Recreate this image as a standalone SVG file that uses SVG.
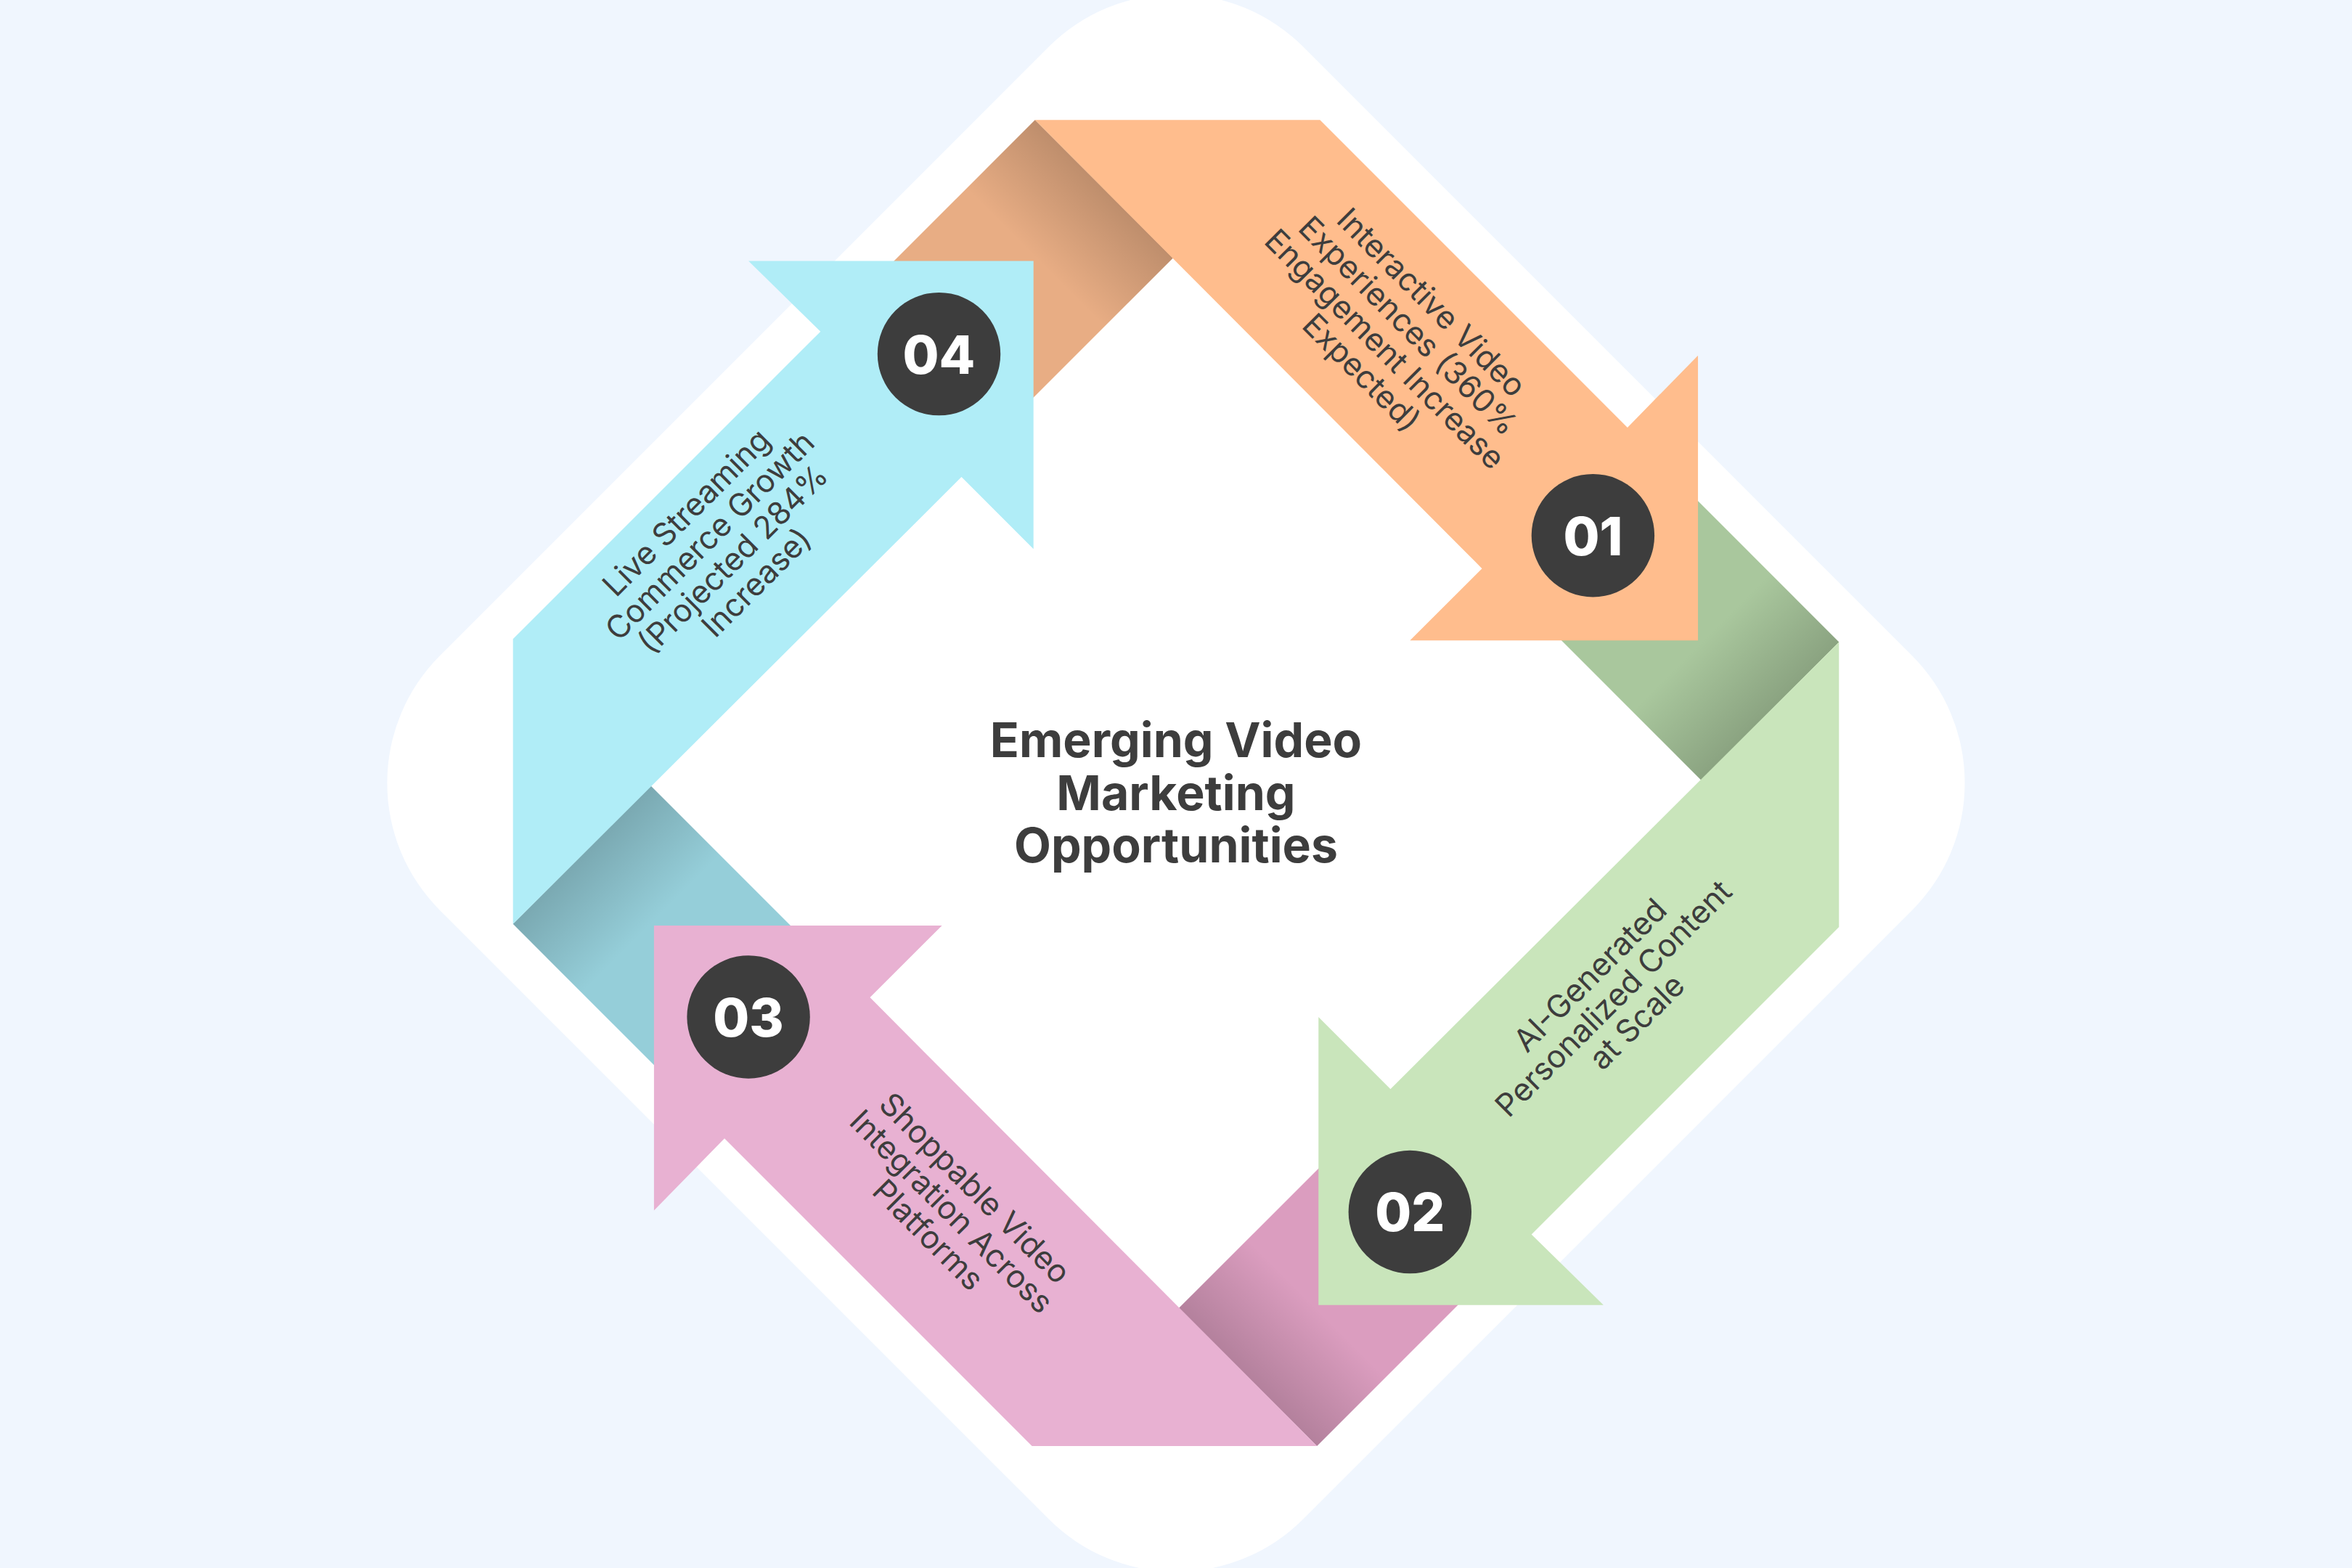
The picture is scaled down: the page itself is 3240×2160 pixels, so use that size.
<svg xmlns="http://www.w3.org/2000/svg" width="3240" height="2160" viewBox="0 0 3240 2160">
<defs>
<style>
.lbl{font-family:Inter,"Liberation Sans",sans-serif;font-size:21px;fill:#3d3d3d;text-anchor:middle}
.num{font-family:Inter,"Liberation Sans",sans-serif;font-size:35px;font-weight:800;fill:#ffffff;text-anchor:middle}
.ttl{font-family:Inter,"Liberation Sans",sans-serif;font-size:32px;font-weight:700;fill:#3d3d3d;text-anchor:middle}
.badge{fill:#3d3d3d}
</style>
<linearGradient id="sh" gradientUnits="userSpaceOnUse" x1="736" y1="126" x2="690" y2="172">
<stop offset="0" stop-color="#000" stop-opacity="0.18"/>
<stop offset="1" stop-color="#000" stop-opacity="0"/>
</linearGradient>
<polygon id="fold" points="690,80 782,172 640,314 548,222"/>
<polygon id="shade" points="690,80 782,172 736,218 644,126" fill="url(#sh)"/>
<polygon id="arrow" points="690,80 880,80 1085,285 1132,237 1132,427 940,427 988,379"/>
</defs>
<rect width="3240" height="2160" fill="#f0f6fe"/>
<g transform="scale(2.0663)">
<rect x="377" y="115" width="814" height="814" rx="120" fill="#ffffff" transform="rotate(45 784 522)"/>
<g id="folds">
<use href="#fold" fill="#e8ad84"/>
<use href="#shade"/>
<g transform="rotate(90 784 522)"><use href="#fold" fill="#a9c79d"/><use href="#shade"/></g>
<g transform="rotate(180 784 522)"><use href="#fold" fill="#db9dbf"/><use href="#shade"/></g>
<g transform="rotate(270 784 522)"><use href="#fold" fill="#95ced9"/><use href="#shade"/></g>
</g>
<g id="node01">
<use href="#arrow" fill="#ffbd8d"/>
<text class="lbl" transform="translate(928,228) rotate(45)"><tspan x="0" y="-30">Interactive Video</tspan><tspan x="0" y="-8">Experiences (360%</tspan><tspan x="0" y="14">Engagement Increase</tspan><tspan x="0" y="36">Expected)</tspan></text>
<circle class="badge" cx="1062" cy="357" r="41"/><text class="num" x="1062" y="370">01</text>
</g>
<g id="node02">
<use href="#arrow" fill="#c9e5bb" transform="rotate(90 784 522)"/>
<text class="lbl" transform="translate(1078,668) rotate(-45)"><tspan x="0" y="-18">AI-Generated</tspan><tspan x="0" y="4">Personalized Content</tspan><tspan x="0" y="26">at Scale</tspan></text>
<circle class="badge" cx="940" cy="808" r="41"/><text class="num" x="940" y="821">02</text>
</g>
<g id="node03">
<use href="#arrow" fill="#e8b1d2" transform="rotate(180 784 522)"/>
<text class="lbl" transform="translate(632,810) rotate(45)"><tspan x="0" y="-18">Shoppable Video</tspan><tspan x="0" y="4">Integration Across</tspan><tspan x="0" y="26">Platforms</tspan></text>
<circle class="badge" cx="499" cy="678" r="41"/><text class="num" x="499" y="691">03</text>
</g>
<g id="node04">
<use href="#arrow" fill="#b0edf7" transform="rotate(270 784 522)"/>
<text class="lbl" transform="translate(484,368) rotate(-45)"><tspan x="0" y="-30">Live Streaming</tspan><tspan x="0" y="-8">Commerce Growth</tspan><tspan x="0" y="14">(Projected 284%</tspan><tspan x="0" y="36">Increase)</tspan></text>
<circle class="badge" cx="626" cy="236" r="41"/><text class="num" x="626" y="249">04</text>
</g>
<g id="connectors"></g>
<g id="title">
<text class="ttl"><tspan x="784" y="505">Emerging Video</tspan><tspan x="784" y="540">Marketing</tspan><tspan x="784" y="575">Opportunities</tspan></text>
</g>
</g>
</svg>
